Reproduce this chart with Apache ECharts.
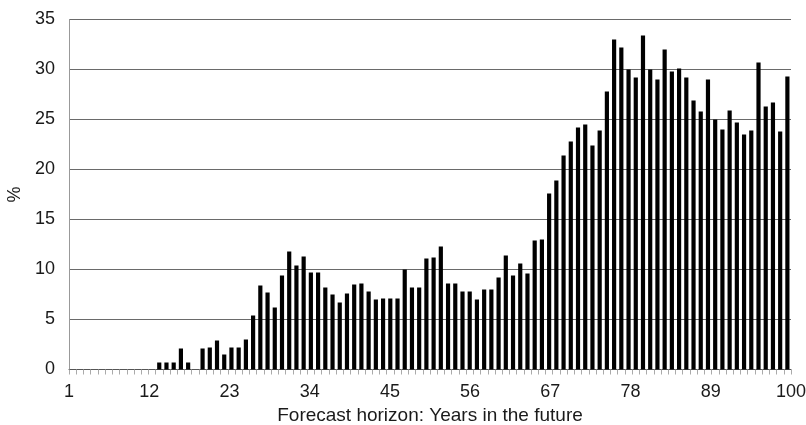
<!DOCTYPE html>
<html>
<head>
<meta charset="utf-8">
<script src="https://cdn.jsdelivr.net/npm/echarts@6/dist/echarts.min.js"></script>
<style>
  html, body { margin: 0; padding: 0; background: #fff; }
  #main { width: 806px; height: 425px; }
</style>
</head>
<body>
<div id="main"></div>
<script>
// forecast horizon, years 1..100
var years = [];
for (var i = 1; i <= 100; i++) years.push(String(i));

// share of responses, %
var percent = [
  0, 0, 0, 0, 0, 0, 0, 0, 0, 0,
  0, 0, 0.7, 0.7, 0.7, 2.1, 0.7, 0, 2.1, 2.2,
  2.9, 1.5, 2.2, 2.2, 3.0, 5.4, 8.4, 7.7, 6.2, 9.4,
  11.8, 10.4, 11.3, 9.7, 9.7, 8.2, 7.5, 6.7, 7.6, 8.5,
  8.6, 7.8, 7.0, 7.1, 7.1, 7.1, 10.0, 8.2, 8.2, 11.1,
  11.2, 12.3, 8.6, 8.6, 7.8, 7.8, 7.0, 8.0, 8.0, 9.2,
  11.4, 9.4, 10.6, 9.6, 12.9, 13.0, 17.6, 18.9, 21.4, 22.8,
  24.2, 24.5, 22.4, 23.9, 27.8, 33.0, 32.2, 30.0, 29.2, 33.4,
  30.0, 29.0, 32.0, 29.8, 30.1, 29.2, 26.9, 25.8, 29.0, 25.0,
  24.0, 25.9, 24.7, 23.5, 23.9, 30.7, 26.3, 26.7, 23.8, 29.3
];

// labelled horizons on the axis: 1, 12, 23 ... 100
var labelMin = 1;
var labelMax = 100;
var labelStep = 11;

var labelFont = { fontFamily: 'Liberation Sans, Arial, sans-serif', fontSize: 18, color: '#1a1a1a' };
var nameFont = { fontFamily: 'Liberation Sans, Arial, sans-serif', fontSize: 19, color: '#1a1a1a' };

var chart = echarts.init(document.getElementById('main'), null, { renderer: 'canvas' });

var option = {
  animation: false,
  backgroundColor: '#fff',
  grid: {
    left: 69,
    right: 15,
    top: 19.5,
    bottom: 55.5,
    outerBoundsMode: 'none'
  },
  xAxis: [
    {
      // bars sit in this one, ticks between every bar
      type: 'category',
      data: years,
      position: 'bottom',
      boundaryGap: true,
      axisLine: { lineStyle: { color: '#555', width: 1 } },
      axisTick: { show: true, interval: 0, length: 5, lineStyle: { color: '#aaa' } },
      axisLabel: { show: false },
      splitLine: { show: false }
    },
    {
      // only for the labels 1, 12, 23 ... 100
      type: 'value',
      position: 'bottom',
      min: labelMin,
      max: labelMax,
      interval: labelStep,
      axisLine: { show: false },
      axisTick: { show: false },
      splitLine: { show: false },
      axisLabel: Object.assign({ margin: 14, showMinLabel: true, showMaxLabel: true }, labelFont),
      name: 'Forecast horizon: Years in the future',
      nameLocation: 'middle',
      nameGap: 28,
      nameTextStyle: nameFont
    }
  ],
  yAxis: {
    type: 'value',
    min: 0,
    max: 35,
    interval: 5,
    name: '%',
    nameLocation: 'middle',
    nameGap: 40,
    nameTextStyle: labelFont,
    axisLine: { show: true, lineStyle: { color: '#999' } },
    axisTick: { show: false },
    axisLabel: Object.assign({ margin: 14 }, labelFont),
    splitLine: { lineStyle: { color: '#6a6a6a', width: 1 } }
  },
  series: [
    {
      type: 'bar',
      xAxisIndex: 0,
      data: percent,
      barWidth: '58%',
      itemStyle: { color: '#000' }
    }
  ]
};

chart.setOption(option);
</script>
</body>
</html>
